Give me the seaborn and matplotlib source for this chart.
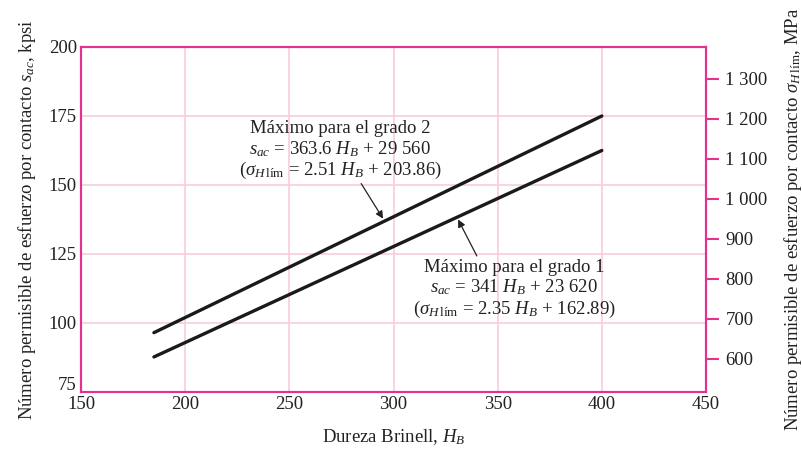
import numpy as np
import pandas as pd
import matplotlib
matplotlib.use("Agg")
import matplotlib.pyplot as plt
import matplotlib.transforms as mtransforms
import seaborn as sns

# ======================================================
# DATA
# ======================================================

hb = [185, 400]
grade1_kpsi = [87.7, 162.5]
grade2_kpsi = [96.5, 175.0]

x_ticks = [150, 200, 250, 300, 350, 400, 450]
y_ticks = [75, 100, 125, 150, 175, 200]
mpa_ticks = [600, 700, 800, 900, 1000, 1100, 1200, 1300]
mpa_labels = ["600", "700", "800", "900", "1 000", "1 100", "1 200", "1 300"]

KPSI_TO_MPA = 6.895

df = pd.DataFrame({
    "HB": hb + hb,
    "sac": grade1_kpsi + grade2_kpsi,
    "grado": ["1", "1", "2", "2"],
})

# ======================================================
# STYLE
# ======================================================

sns.set_theme(style="white")
plt.rcParams["font.family"] = ["Liberation Serif", "DejaVu Serif"]
plt.rcParams["mathtext.fontset"] = "custom"
plt.rcParams["mathtext.rm"] = "Liberation Serif"
plt.rcParams["mathtext.it"] = "Liberation Serif:italic"

magenta = "#E4318E"
grid_pink = "#F7CCDF"
ink = "#222222"
fs = 13.5

fig = plt.figure(figsize=(8.02, 4.51), dpi=100)
ax = fig.add_axes([81 / 802, 1 - 392 / 451, (706 - 81) / 802, (392 - 47) / 451])

sns.lineplot(
    data=df,
    x="HB",
    y="sac",
    units="grado",
    estimator=None,
    color="#1a1a1a",
    linewidth=2.4,
    ax=ax,
)

ax.set_xlim(150, 450)
ax.set_ylim(75, 200)
ax.set_xticks(x_ticks)
ax.set_yticks(y_ticks)
ax.tick_params(axis="both", length=0, labelsize=fs, colors=ink, pad=3)
ax.grid(True, color=grid_pink, linewidth=1.2)
ax.set_axisbelow(True)
for s in ax.spines.values():
    s.set_color(magenta)
    s.set_linewidth(1.5)

# raise the "75" label a little, as in the original
lab75 = ax.get_yticklabels()[0]
lab75.set_transform(lab75.get_transform() +
                    mtransforms.ScaledTranslation(0, 6 / 72, fig.dpi_scale_trans))

ax.set_xlabel("Dureza Brinell, $H_B$", fontsize=fs, color=ink, labelpad=10)
ax.set_ylabel("Número permisible de esfuerzo por contacto $s_{ac}$, kpsi",
              fontsize=fs, color=ink, labelpad=8)

# ======================================================
# RIGHT AXIS (MPa)
# ======================================================

ax2 = ax.twinx()
ax2.set_ylim(75 * KPSI_TO_MPA, 200 * KPSI_TO_MPA)
ax2.set_yticks(mpa_ticks)
ax2.set_yticklabels(mpa_labels)
ax2.tick_params(axis="y", direction="out", length=9, width=1.5, color=magenta,
                labelsize=fs, labelcolor=ink, pad=5)
ax2.grid(False)
for s in ax2.spines.values():
    s.set_color(magenta)
    s.set_linewidth(1.5)
ax2.set_ylabel("Número permisible de esfuerzo por contacto $\\sigma_{H\\,\\mathrm{lím}}$, MPa",
               fontsize=fs, color=ink, labelpad=10)

# ======================================================
# ANNOTATIONS
# ======================================================

txt2 = ("Máximo para el grado 2\n"
        "$s_{ac}$ = 363.6 $H_B$ + 29 560\n"
        "($\\sigma_{H\\,\\mathrm{lím}}$ = 2.51 $H_B$ + 203.86)")
ax.text(274.5, 162.4, txt2, ha="center", va="center", fontsize=fs,
        color=ink, linespacing=1.12)
ax.annotate("", xy=(295, 137.8), xytext=(284.5, 150.5),
            arrowprops=dict(arrowstyle="-|>", color=ink, lw=0.9,
                            mutation_scale=11, shrinkA=0, shrinkB=0))

txt1 = ("Máximo para el grado 1\n"
        "$s_{ac}$ = 341 $H_B$ + 23 620\n"
        "($\\sigma_{H\\,\\mathrm{lím}}$ = 2.35 $H_B$ + 162.89)")
ax.text(358, 112.2, txt1, ha="center", va="center", fontsize=fs,
        color=ink, linespacing=1.12)
ax.annotate("", xy=(331, 137.5), xytext=(340, 124.3),
            arrowprops=dict(arrowstyle="-|>", color=ink, lw=0.9,
                            mutation_scale=11, shrinkA=0, shrinkB=0))

plt.savefig("out.png", dpi=100)
plt.close()
